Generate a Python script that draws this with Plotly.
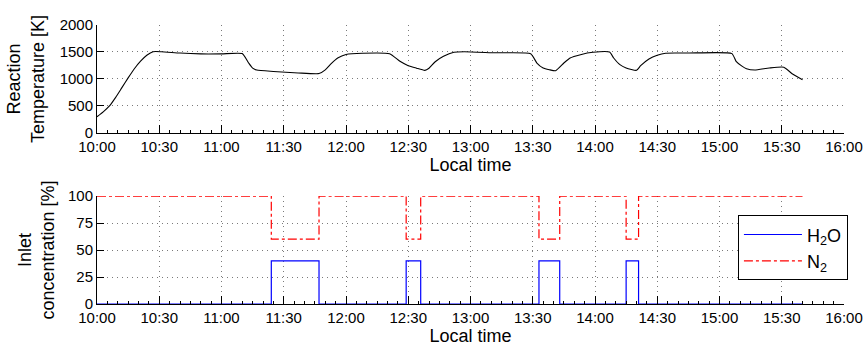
import plotly.graph_objects as go
from plotly.subplots import make_subplots

DAY = "2014-06-12 "

# Reactor temperature log (local time, K)
temp_time = ["10:00", "10:03", "10:06", "10:09", "10:12", "10:15", "10:18", "10:21", "10:24", "10:27",
             "10:31", "10:40", "10:50", "11:00", "11:10", "11:13", "11:15", "11:17", "11:25", "11:37",
             "11:47", "11:50", "11:53", "11:56", "12:00", "12:08", "12:21", "12:26", "12:30", "12:34",
             "12:38", "12:40", "12:43", "12:47", "12:52", "12:57", "13:12", "13:29", "13:32", "13:35",
             "13:38", "13:41", "13:45", "13:48", "13:53", "13:59", "14:07", "14:09", "14:12", "14:15",
             "14:20", "14:22", "14:26", "14:30", "14:34", "14:45", "15:06", "15:08", "15:11", "15:13",
             "15:17", "15:24", "15:31", "15:35", "15:40"]
temp_K = [300, 390, 500, 660, 840, 1020, 1190, 1330, 1440, 1505,
          1505, 1480, 1465, 1465, 1470, 1300, 1200, 1165, 1140, 1112,
          1100, 1170, 1290, 1389, 1455, 1478, 1468, 1327, 1246, 1200,
          1160, 1200, 1320, 1420, 1495, 1505, 1485, 1468, 1296, 1204,
          1172, 1154, 1296, 1389, 1450, 1494, 1498, 1389, 1265, 1204,
          1160, 1246, 1370, 1440, 1478, 1480, 1470, 1327, 1233, 1190,
          1166, 1204, 1218, 1098, 987]

# Inlet gas composition switching (%)
conc_time = ["10:00", "11:24", "11:47", "12:29", "12:36", "13:33", "13:43", "14:15", "14:21", "15:40"]
h2o_pct = [0, 40, 0, 40, 0, 40, 0, 40, 0, 0]
n2_pct = [100, 60, 100, 60, 100, 60, 100, 60, 100, 100]

x_range = [DAY + "10:00", DAY + "16:00"]
tick_vals = [DAY + t for t in ["10:00", "10:30", "11:00", "11:30", "12:00", "12:30",
                               "13:00", "13:30", "14:00", "14:30", "15:00", "15:30", "16:00"]]
tick_text = [t[-5:] for t in tick_vals]

FONT = "Liberation Sans, Arial, Helvetica, sans-serif"
GRID = "#7a7a7a"

fig = make_subplots(rows=2, cols=1, vertical_spacing=0.0)

fig.add_trace(go.Scatter(
    x=[DAY + t for t in temp_time], y=temp_K, mode="lines",
    line=dict(color="black", width=1.1, shape="spline", smoothing=0.5),
    showlegend=False), row=1, col=1)

fig.add_trace(go.Scatter(
    x=[DAY + t for t in conc_time], y=h2o_pct, mode="lines", name="H<sub>2</sub>O",
    line=dict(color="#0000ff", width=1.2, shape="hv")), row=2, col=1)
fig.add_trace(go.Scatter(
    x=[DAY + t for t in conc_time], y=n2_pct, mode="lines", name="N<sub>2</sub>",
    line=dict(color="#ff0000", width=1.2, shape="hv", dash="dashdot")), row=2, col=1)

xaxis_common = dict(
    type="date", range=x_range, tickmode="array", tickvals=tick_vals, ticktext=tick_text,
    showgrid=True, gridcolor=GRID, griddash="1px,4px", gridwidth=1,
    showline=True, linecolor="black", linewidth=1, mirror=False,
    ticks="inside", ticklen=8, tickcolor="black", tickwidth=1,
    minor=dict(ticks="inside", ticklen=3, dtick=300000, tickcolor="black", showgrid=False),
    tickfont=dict(size=15, color="black", family=FONT),
    title=dict(text="Local time", font=dict(size=18, color="black", family=FONT), standoff=4),
    zeroline=False, automargin=False,
)
yaxis_common = dict(
    showgrid=True, gridcolor=GRID, griddash="1px,4px", gridwidth=1,
    showline=True, linecolor="black", linewidth=1, mirror=False,
    ticks="inside", ticklen=7, tickcolor="black", tickwidth=1,
    tickfont=dict(size=15, color="black", family=FONT),
    zeroline=False, automargin=False,
)

fig.update_xaxes(**xaxis_common)
fig.update_yaxes(**yaxis_common)

fig.update_layout(
    xaxis=dict(domain=[0, 1]),
    xaxis2=dict(domain=[0, 1]),
    yaxis=dict(domain=[0.613, 1.0], range=[0, 2000], tickvals=[0, 500, 1000, 1500, 2000],
               title=dict(text="Reaction<br>Temperature [K]",
                          font=dict(size=18, color="black", family=FONT), standoff=10)),
    yaxis2=dict(domain=[0.0, 0.387], range=[0, 100], tickvals=[0, 25, 50, 75, 100],
                title=dict(text="Inlet<br>concentration [%]",
                           font=dict(size=18, color="black", family=FONT), standoff=8)),
    width=866, height=348,
    margin=dict(l=97, r=22, t=25, b=44),
    paper_bgcolor="white", plot_bgcolor="white",
    font=dict(family=FONT, color="black"),
    legend=dict(x=0.858, y=0.318, xanchor="left", yanchor="top",
                bordercolor="black", borderwidth=1, bgcolor="white",
                font=dict(size=18, color="black", family=FONT),
                itemwidth=58),
)

fig.write_html("out.html")
